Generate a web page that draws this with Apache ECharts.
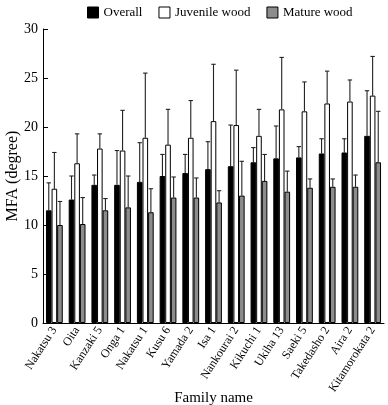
<!DOCTYPE html>
<html>
<head>
<meta charset="utf-8">
<script src="https://cdn.jsdelivr.net/npm/echarts@6/dist/echarts.min.js"></script>
<style>
  html, body { margin: 0; padding: 0; background: #fff; }
  #chart { width: 388px; height: 405px; }
</style>
</head>
<body>
<div id="chart"></div>
<script>
const families = ['Nakatsu 3', 'Oita', 'Kanzaki 5', 'Onga 1', 'Nakatsu 1', 'Kusu 6', 'Yamada 2', 'Isa 1',
  'Nankourai 2', 'Kikuchi 1', 'Ukiha 13', 'Saeki 5', 'Takedasho 2', 'Aira 2', 'Kitamorokata 2'];

const overall = [11.5, 12.6, 14.1, 14.1, 14.4, 15.0, 15.3, 15.7, 16.0, 16.4, 16.8, 16.9, 17.3, 17.4, 19.1];
const overallErr = [14.3, 15.0, 15.1, 17.6, 18.4, 17.2, 17.2, 18.5, 20.2, 17.9, 20.1, 18.0, 18.8, 18.8, 23.7];

const juvenile = [13.7, 16.3, 17.8, 17.6, 18.9, 18.2, 18.9, 20.6, 20.2, 19.1, 21.8, 21.6, 22.4, 22.6, 23.2];
const juvenileErr = [17.4, 19.3, 19.3, 21.7, 25.5, 21.8, 22.7, 26.4, 25.8, 21.8, 27.1, 24.6, 25.7, 24.8, 27.2];

const mature = [10.0, 10.1, 11.5, 11.8, 11.3, 12.8, 12.8, 12.3, 13.0, 14.5, 13.4, 13.8, 13.9, 13.9, 16.4];
const matureErr = [12.4, 12.8, 12.7, 15.0, 13.7, 14.9, 14.8, 13.5, 16.5, 17.2, 15.5, 14.7, 14.7, 15.1, 21.6];

const yTicks = { min: 0, max: 30, interval: 5 };

const font = 'Liberation Serif';
const barW = 5.6;

function errorSeries(name, vals, tops, offset) {
  return {
    type: 'custom',
    name: name,
    z: 1,
    silent: true,
    renderItem: function (params, api) {
      const i = api.value(0);
      const top = api.coord([i, api.value(2)]);
      const base = api.coord([i, api.value(1)]);
      const x = top[0] + offset;
      const half = 2.2;
      const style = { stroke: '#222', lineWidth: 1.1 };
      return {
        type: 'group',
        children: [
          { type: 'line', shape: { x1: x, y1: base[1], x2: x, y2: top[1] }, style: style },
          { type: 'line', shape: { x1: x - half, y1: top[1], x2: x + half, y2: top[1] }, style: style }
        ]
      };
    },
    data: tops.map(function (t, i) { return [i, vals[i], t]; })
  };
}

const chart = echarts.init(document.getElementById('chart'));

chart.setOption({
  animation: false,
  textStyle: { fontFamily: font },
  legend: {
    top: 1,
    left: 82,
    itemWidth: 11,
    itemHeight: 11,
    itemGap: 16,
    textStyle: { fontFamily: font, fontSize: 13, color: '#000' },
    data: [
      { name: 'Overall', icon: 'rect', itemStyle: { color: '#000', borderColor: '#000', borderWidth: 1 } },
      { name: 'Juvenile wood', icon: 'rect', itemStyle: { color: '#fff', borderColor: '#000', borderWidth: 1 } },
      { name: 'Mature wood', icon: 'rect', itemStyle: { color: '#8c8c8c', borderColor: '#000', borderWidth: 1 } }
    ]
  },
  grid: { left: 43, right: 4, top: 29, bottom: 82, containLabel: false, outerBoundsMode: 'none' },
  xAxis: {
    type: 'category',
    data: families,
    name: 'Family name',
    nameLocation: 'middle',
    nameMoveOverlap: false,
    nameGap: 68,
    nameTextStyle: { fontFamily: font, fontSize: 15, color: '#000' },
    axisLine: { lineStyle: { color: '#000', width: 1 } },
    axisTick: { inside: true, length: 3, lineStyle: { color: '#555' } },
    axisLabel: {
      rotate: 57,
      interval: 0,
      margin: 5,
      fontFamily: font,
      fontSize: 12,
      color: '#000'
    }
  },
  yAxis: {
    type: 'value',
    min: yTicks.min,
    max: yTicks.max,
    interval: yTicks.interval,
    name: 'MFA (degree)',
    nameLocation: 'middle',
    nameMoveOverlap: false,
    nameGap: 22,
    nameTextStyle: { fontFamily: font, fontSize: 16, color: '#000' },
    splitLine: { show: false },
    axisLine: { show: true, lineStyle: { color: '#000', width: 1 } },
    axisTick: { show: true, inside: true, length: 5, lineStyle: { color: '#000' } },
    axisLabel: { fontFamily: font, fontSize: 14, color: '#000', margin: 5 }
  },
  series: [
    {
      type: 'bar', name: 'Overall', data: overall, barWidth: barW, barGap: '0%', z: 2,
      itemStyle: { color: '#000', borderColor: '#000', borderWidth: 1 }
    },
    {
      type: 'bar', name: 'Juvenile wood', data: juvenile, barWidth: barW, barGap: '0%', z: 2,
      itemStyle: { color: '#fff', borderColor: '#000', borderWidth: 1 }
    },
    {
      type: 'bar', name: 'Mature wood', data: mature, barWidth: barW, barGap: '0%', z: 2,
      itemStyle: { color: '#8c8c8c', borderColor: '#000', borderWidth: 1 }
    },
    errorSeries('Overall', overall, overallErr, -barW),
    errorSeries('Juvenile wood', juvenile, juvenileErr, 0),
    errorSeries('Mature wood', mature, matureErr, barW)
  ]
});

window.addEventListener('resize', chart.resize);
</script>
</body>
</html>
